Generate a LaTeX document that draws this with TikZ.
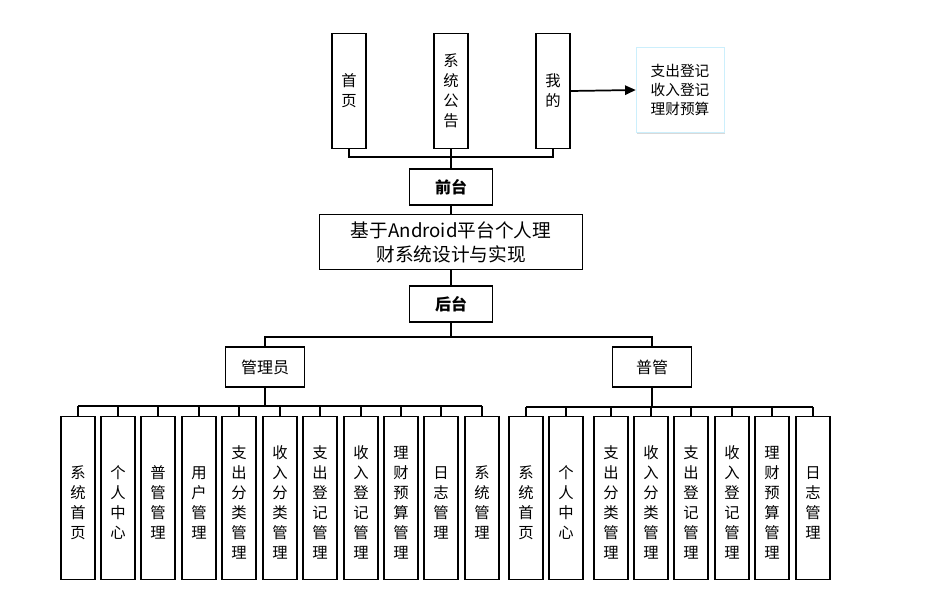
\documentclass[tikz,border=0pt]{standalone}
\usepackage{fontspec}
\setmainfont{Noto Sans CJK SC}
\usetikzlibrary{arrows.meta,shadows}
\tikzset{
    vbox/.style = {
        draw, thick, minimum width=25.5pt, inner xsep=1pt, align=center, font=\fontsize{11.5}{15}\selectfont,
        },
    hbox/.style = {
        draw, thick, minimum width=62, minimum height=27, font=\fontsize{12}{14}\selectfont,
        },
    note/.style = {
        draw=cyan!20, fill=white, align=left, minimum width=66, minimum height=64,
        drop shadow={shadow xshift=1pt, shadow yshift=-1pt, opacity=0.3},
        font=\fontsize{11}{14}\selectfont,
        },
    link/.style = {
        thick,
        },
}
\begin{document}
\begin{tikzpicture}[x=0.75pt,y=-0.75pt]
            \useasboundingbox (0,0) rectangle (932,603);
            % front end
            \node[vbox, minimum height=86] (home) at (349,91) {首\\页};
            \node[vbox, minimum height=86] (notice) at (451,91) {系\\统\\公\\告};
            \node[vbox, minimum height=86] (mine) at (553,91) {我\\的};
            \node[note] (sub) at (680,90) {支出登记\\收入登记\\理财预算};
            \node[hbox, font=\bfseries\fontsize{12}{14}\selectfont] (front) at (451,187) {前台};
            \node[hbox, minimum width=197, minimum height=41, align=center,
                  font=\fontsize{14}{18}\selectfont] (sys) at (451,242) {基于Android平台个人理\\财系统设计与实现};
            \node[hbox, font=\bfseries\fontsize{12}{14}\selectfont] (back) at (451,304) {后台};
            \node[hbox, minimum width=59, minimum height=30] (admin) at (265,367) {管理员};
            \node[hbox, minimum width=59, minimum height=30] (user) at (652,367) {普管};

            \draw[link] (home.south) |- (451,157) -| (mine.south);
            \draw[link] (notice) -- (front);
            \draw[link] (front) -- (sys);
            \draw[link] (sys) -- (back);
            \draw[link] (back.south) -- (451,337);
            \draw[link] (admin.north) |- (451,337) -| (user.north);
            \draw[link, line width=1.3pt, -{Triangle[length=8pt,width=7pt]}] (mine.east) -- (sub.west);

            % admin modules
            \foreach \x/\t [count=\i] in {78/系\\统\\首\\页, 118/个\\人\\中\\心, 158/普\\管\\管\\理,
                    199/用\\户\\管\\理, 239/支\\出\\分\\类\\管\\理, 280/收\\入\\分\\类\\管\\理,
                    320/支\\出\\登\\记\\管\\理, 361/收\\入\\登\\记\\管\\理, 401/理\\财\\预\\算\\管\\理,
                    441/日\\志\\管\\理, 482/系\\统\\管\\理} {
                \node[vbox, minimum height=122, anchor=north] (a\i) at (\x,416)
                    {\vphantom{系}\\[-8pt]\t};
                \draw[link] (a\i.north) -- (\x,406);
            }
            \draw[link] (78,406) -- (482,406);
            \draw[link] (admin.south) -- (265,406);

            % user modules
            \foreach \x/\t [count=\i] in {526/系\\统\\首\\页, 566/个\\人\\中\\心,
                    611/支\\出\\分\\类\\管\\理, 651/收\\入\\分\\类\\管\\理, 691/支\\出\\登\\记\\管\\理,
                    732/收\\入\\登\\记\\管\\理, 772/理\\财\\预\\算\\管\\理, 813/日\\志\\管\\理} {
                \node[vbox, minimum height=122, anchor=north] (u\i) at (\x,416)
                    {\vphantom{系}\\[-8pt]\t};
                \draw[link] (u\i.north) -- (\x,407);
            }
            \draw[link] (526,407) -- (813,407);
            \draw[link] (user.south) -- (652,407);
\end{tikzpicture}
\end{document}
